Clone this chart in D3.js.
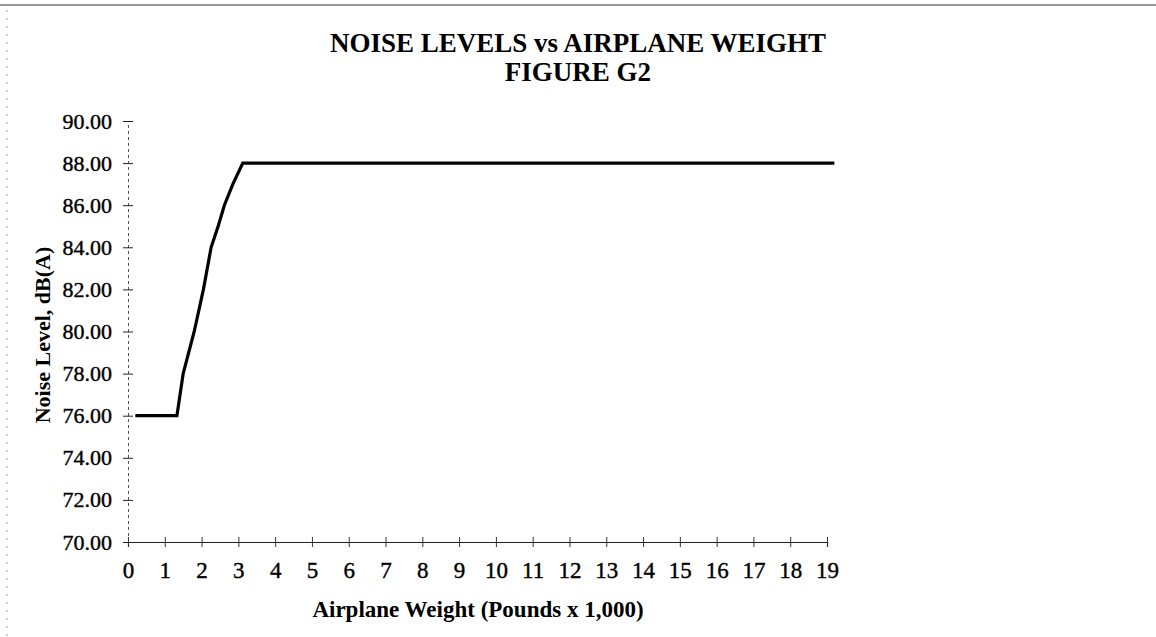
<!DOCTYPE html>
<html>
<head>
<meta charset="utf-8">
<script src="https://cdn.jsdelivr.net/npm/d3@7"></script>
<style>
  body { margin: 0; background: #fff; }
  svg { display: block; font-family: "Liberation Serif", "Times New Roman", serif; }
</style>
</head>
<body>
<div id="chart"></div>
<script>
// values
const weights = [0.2, 1.33, 1.5, 1.8, 2.05, 2.26, 2.45, 2.62, 2.85, 3.12, 19.2];
const noise   = [76, 76, 78, 80, 82, 84, 85, 86, 87, 88, 88];
const xTicks = d3.range(0, 20);
const yTicks = [70, 72, 74, 76, 78, 80, 82, 84, 86, 88, 90];
const titleLines = ["NOISE LEVELS vs AIRPLANE WEIGHT", "FIGURE G2"];

const width = 1156, height = 637;
const margin = {left: 128, right: 329, top: 121, bottom: 95};

const svg = d3.select("#chart")
  .append("svg")
  .attr("width", width)
  .attr("height", height);

// scan frame lines
svg.append("line")
  .attr("x1", 0).attr("x2", width).attr("y1", 5).attr("y2", 5)
  .attr("stroke", "#333").attr("stroke-width", 1.2);
svg.append("line")
  .attr("x1", 7).attr("x2", 7).attr("y1", 10).attr("y2", height)
  .attr("stroke", "#999").attr("stroke-width", 1)
  .attr("stroke-dasharray", "2,6");

const x = d3.scaleLinear().domain([0, 19]).range([margin.left, width - margin.right]);
const y = d3.scaleLinear().domain([70, 90]).range([height - margin.bottom, margin.top]);

// title
svg.selectAll("text.title")
  .data(titleLines).enter()
  .append("text")
    .attr("class", "title")
    .attr("x", 578)
    .attr("y", (d, i) => 52 + i * 29)
    .attr("text-anchor", "middle")
    .attr("font-size", 27)
    .attr("font-weight", "bold")
    .text(d => d);

// y axis (dotted line with cross ticks)
const yAxis = svg.append("g")
  .attr("transform", `translate(${margin.left},0)`)
  .call(d3.axisLeft(y).tickValues(yTicks).tickFormat(d3.format(".2f"))
    .tickSize(5).tickPadding(11));
yAxis.select(".domain")
  .attr("stroke", "#555").attr("stroke-dasharray", "3,3");
yAxis.selectAll(".tick line").attr("x2", 5).attr("x1", -5).attr("stroke", "#222");
yAxis.selectAll(".tick text")
  .attr("font-size", 22)
  .attr("font-family", "Liberation Serif")
  .attr("fill", "#000")
  .attr("stroke", "#000").attr("stroke-width", 0.4);

// x axis
const xAxis = svg.append("g")
  .attr("transform", `translate(0,${y(70)})`)
  .call(d3.axisBottom(x).tickValues(xTicks).tickFormat(d3.format("d"))
    .tickSize(5).tickPadding(15));
xAxis.select(".domain").attr("stroke", "#222").attr("stroke-width", 1.2);
xAxis.selectAll(".tick line").attr("y1", -5).attr("y2", 5).attr("stroke", "#333");
xAxis.selectAll(".tick text")
  .attr("font-size", 23)
  .attr("font-family", "Liberation Serif")
  .attr("fill", "#000")
  .attr("stroke", "#000").attr("stroke-width", 0.4);

// axis titles
svg.append("text")
  .attr("x", 478)
  .attr("y", 617)
  .attr("text-anchor", "middle")
  .attr("font-size", 23)
  .attr("font-weight", "bold")
  .text("Airplane Weight (Pounds x 1,000)");

svg.append("text")
  .attr("transform", `translate(50,335) rotate(-90)`)
  .attr("text-anchor", "middle")
  .attr("font-size", 22)
  .attr("font-weight", "bold")
  .text("Noise Level, dB(A)");

// the data line
const pts = weights.map((w, i) => [w, noise[i]]);
const lineGen = d3.line().x(d => x(d[0])).y(d => y(d[1]));
svg.append("path")
  .datum(pts)
  .attr("d", lineGen)
  .attr("fill", "none")
  .attr("stroke", "#000")
  .attr("stroke-width", 3.2)
  .attr("stroke-linejoin", "miter");
</script>
</body>
</html>
